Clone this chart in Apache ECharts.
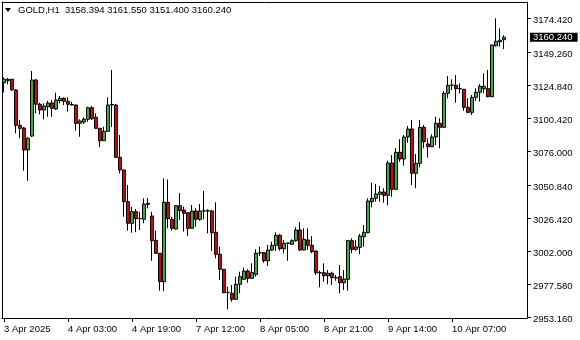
<!DOCTYPE html>
<html><head><meta charset="utf-8">
<script src="https://cdn.jsdelivr.net/npm/echarts@6/dist/echarts.min.js"></script>
<style>html,body{margin:0;padding:0;background:#fff}#c{width:580px;height:340px}</style>
</head><body><div id="c"></div>
<script>
const symbol = 'GOLD,H1';
const lastOHLC = [3158.394, 3161.550, 3151.400, 3160.240];

const opens = [3126.54,3128.02,3129.06,3121.14,3095.02,3093.02,3076.74,3087.10,3128.54,3110.56,
3106.34,3108.78,3111.52,3107.08,3113.22,3114.98,3112.78,3110.41,3110.04,3096.50,
3097.46,3099.46,3108.04,3100.94,3092.80,3083.62,3090.58,3110.04,3110.04,3071.34,
3061.94,3038.48,3022.50,3031.08,3026.10,3025.46,3037.30,3027.90,3009.92,3000.30,
2979.28,3038.04,3025.46,3018.28,3035.52,3032.34,3030.34,3018.80,3031.60,3025.46,
3031.60,3031.80,3031.60,3015.84,2999.56,2988.46,2971.14,2970.70,2966.26,2977.36,
2981.06,2987.20,2981.80,2984.76,3000.60,3000.74,2994.82,3002.74,3006.22,3013.62,
3003.70,3007.70,3006.96,3009.62,3017.54,3002.74,3010.14,3006.22,3002.00,2985.94,
2985.94,2983.72,2985.50,2982.24,2982.98,2978.54,2981.06,3009.62,3003.26,3004.74,
3012.58,3015.54,3038.48,3040.98,3043.96,3045.66,3043.22,3067.12,3047.66,3075.04,
3070.08,3086.36,3092.28,3059.50,3066.90,3093.54,3081.18,3079.18,3086.36,3096.50,
3093.54,3118.70,3124.62,3124.62,3122.20,3121.66,3108.34,3104.64,3115.74,3119.44,
3122.10,3122.10,3116.18,3153.92,3156.88,3158.394];

const closes = [3129.06,3129.06,3121.14,3095.02,3092.80,3076.74,3085.40,3128.54,3110.56,3106.34,
3109.30,3111.52,3107.60,3113.74,3114.98,3112.78,3110.56,3110.04,3096.50,3098.20,
3099.46,3108.04,3099.90,3092.80,3083.62,3090.58,3110.04,3110.40,3071.34,3061.94,
3038.48,3022.50,3031.08,3025.90,3025.90,3036.78,3036.56,3009.62,3000.30,2979.28,
3038.04,3025.90,3018.80,3035.52,3031.82,3029.90,3018.80,3031.60,3025.46,3031.60,
3031.80,3031.60,3015.54,2999.56,2988.46,2971.14,2971.40,2966.26,2977.36,2982.98,
2987.20,2981.80,2985.94,3000.30,3000.74,2994.82,3002.74,3006.22,3013.62,3003.70,
3007.70,3007.90,3009.62,3017.54,3002.74,3010.66,3006.22,3001.48,2985.94,2985.70,
2983.72,2985.50,2982.24,2982.10,2978.54,2981.28,3009.62,3003.26,3004.96,3013.10,
3015.84,3039.00,3040.98,3044.18,3045.66,3043.22,3067.12,3047.66,3075.04,3070.08,
3086.36,3092.28,3059.50,3066.90,3093.54,3082.88,3079.18,3086.36,3096.50,3093.54,
3118.70,3124.62,3124.80,3122.10,3122.00,3108.34,3104.64,3115.74,3119.44,3123.88,
3123.88,3116.18,3154.44,3157.18,3157.92,3160.240];

const highs = [3130.54,3130.02,3129.30,3121.66,3098.94,3093.80,3086.36,3135.20,3129.28,3111.74,
3111.30,3113.00,3113.74,3119.14,3116.70,3115.74,3115.74,3112.48,3110.30,3099.46,
3100.94,3108.78,3109.30,3103.90,3093.10,3093.98,3115.74,3135.94,3110.78,3087.84,
3062.20,3050.84,3034.78,3033.10,3031.08,3040.98,3041.22,3031.08,3017.02,3000.60,
3055.80,3054.90,3027.38,3035.80,3044.92,3034.78,3030.60,3036.04,3033.60,3036.78,
3046.40,3032.86,3032.50,3038.04,3005.18,2988.70,2975.58,2976.84,2982.98,2986.68,
2989.64,2988.46,2992.90,3003.26,3005.18,3001.00,3006.44,3008.88,3015.84,3014.58,
3010.14,3008.14,3010.66,3019.54,3023.46,3018.80,3018.80,3013.10,3002.30,2987.42,
2992.90,2987.94,2986.68,2984.24,2991.64,2987.94,3010.14,3011.40,3010.14,3014.58,
3021.24,3040.98,3052.54,3051.58,3050.10,3048.40,3068.82,3073.04,3078.22,3084.66,
3087.84,3094.50,3098.94,3073.78,3098.94,3095.24,3085.40,3088.36,3101.38,3100.20,
3120.40,3131.50,3129.06,3132.24,3126.10,3121.90,3114.98,3117.44,3122.40,3125.58,
3133.50,3135.94,3154.70,3174.20,3166.80,3161.550];

const lows = [3119.44,3125.36,3120.90,3089.10,3085.40,3061.42,3054.02,3086.50,3103.90,3103.16,
3099.46,3101.38,3101.38,3106.34,3111.30,3110.04,3105.08,3109.80,3091.02,3086.58,
3095.98,3097.68,3098.94,3092.50,3078.74,3083.40,3090.30,3093.80,3071.00,3059.50,
3027.38,3017.02,3015.54,3016.06,3017.54,3022.50,3033.60,2994.82,3000.00,2972.62,
2972.18,3018.80,3017.02,3018.00,3024.94,3016.28,3013.10,3018.50,3019.98,3024.42,
3025.46,3015.10,3002.08,2996.60,2980.54,2970.70,2958.86,2964.48,2966.00,2970.70,
2980.80,2978.54,2981.50,2982.98,2998.30,2993.34,2990.90,3002.00,3002.00,3002.22,
3000.30,2994.82,3006.44,3008.88,3002.22,3002.50,3002.74,3000.30,2984.24,2975.14,
2979.28,2977.36,2976.84,2980.02,2970.70,2973.14,2972.62,3000.30,3002.22,2999.56,
3005.18,3015.10,3034.34,3038.48,3038.48,3037.74,3035.82,3042.18,3047.40,3068.08,
3065.12,3082.14,3050.84,3048.40,3063.94,3078.00,3071.04,3078.90,3080.44,3078.00,
3093.30,3114.98,3121.14,3111.74,3118.70,3105.82,3103.90,3102.64,3113.22,3112.48,
3118.70,3115.74,3115.90,3153.18,3153.18,3151.400];

const xLabelIdx = [0, 16, 32, 48, 64, 80, 96, 112];
const xLabels = ['3 Apr 2025','4 Apr 03:00','4 Apr 19:00','7 Apr 12:00','8 Apr 05:00','8 Apr 21:00','9 Apr 14:00','10 Apr 07:00'];
const yTicks = [2953.16, 2977.58, 3002.00, 3026.42, 3050.84, 3076.00, 3100.42, 3124.84, 3149.26, 3174.42];

const FONT = 'Tahoma, "Liberation Sans", sans-serif';
const FS = 9.5;
const X_MIN = -0.5, X_MAX = 130.75;
const Y_MIN = 2952.42, Y_MAX = 3186.26;

const rows = opens.map((o, i) => [i, o, closes[i], lows[i], highs[i]]);

const frameAxis = (pos) => ({
  type: 'value', position: pos,
  axisLine: {show: true, onZero: false, lineStyle: {color: '#000', width: 1}},
  axisTick: {show: false}, axisLabel: {show: false}, splitLine: {show: false}
});

const chart = echarts.init(document.getElementById('c'), null, {renderer: 'canvas'});
chart.setOption({
  animation: false,
  backgroundColor: '#fff',
  grid: {left: 2, right: 53, top: 2, bottom: 22, containLabel: false, outerBoundsMode: 'none'},
  dataset: {source: rows},
  xAxis: [{
    type: 'value', min: X_MIN, max: X_MAX, position: 'bottom',
    axisLine: {show: true, onZero: false, lineStyle: {color: '#000', width: 1}},
    axisTick: {show: true, customValues: xLabelIdx, length: 4, lineStyle: {color: '#000'}},
    axisLabel: {show: true, customValues: xLabelIdx, align: 'left', margin: 6,
      formatter: v => xLabels[xLabelIdx.indexOf(Math.round(v))] || '',
      color: '#000', fontFamily: FONT, fontSize: FS},
    splitLine: {show: false}
  }, Object.assign(frameAxis('top'), {min: X_MIN, max: X_MAX})],
  yAxis: [{
    type: 'value', min: Y_MIN, max: Y_MAX, position: 'right',
    axisLine: {show: true, onZero: false, lineStyle: {color: '#000', width: 1}},
    axisTick: {show: true, customValues: yTicks, length: 4, lineStyle: {color: '#000'}},
    axisLabel: {show: true, customValues: yTicks, margin: 6, verticalAlign: 'top', lineHeight: 5,
      formatter: v => v.toFixed(3), color: '#000', fontFamily: FONT, fontSize: FS},
    splitLine: {show: false}
  }, Object.assign(frameAxis('left'), {min: Y_MIN, max: Y_MAX}), {
    type: 'value', min: Y_MIN, max: Y_MAX, position: 'right',
    axisLine: {show: false}, axisTick: {show: false}, splitLine: {show: false},
    axisLabel: {show: true, customValues: [lastOHLC[3]], margin: 3, verticalAlign: 'middle', lineHeight: 7,
      formatter: v => v.toFixed(3), color: '#fff', backgroundColor: '#000', padding: [2, 5, 0, 3],
      fontFamily: FONT, fontSize: FS}
  }],
  series: [{
    type: 'candlestick', clip: false,
    encode: {x: 0, y: [1, 2, 3, 4]},
    barWidth: 3,
    itemStyle: {color: '#32b432', color0: '#dc0000', borderColor: '#000', borderColor0: '#000', borderWidth: 1}
  }],
  graphic: [
    {type: 'polygon', shape: {points: [[5, 8], [11, 8], [8, 12]]}, style: {fill: '#000'}},
    {type: 'text', x: 18, y: 10.5, style: {text: symbol + '  ' + lastOHLC.map(v => v.toFixed(3)).join(' '),
      fill: '#000', font: FS + 'px ' + FONT, verticalAlign: 'middle'}}
  ]
});
</script></body></html>
